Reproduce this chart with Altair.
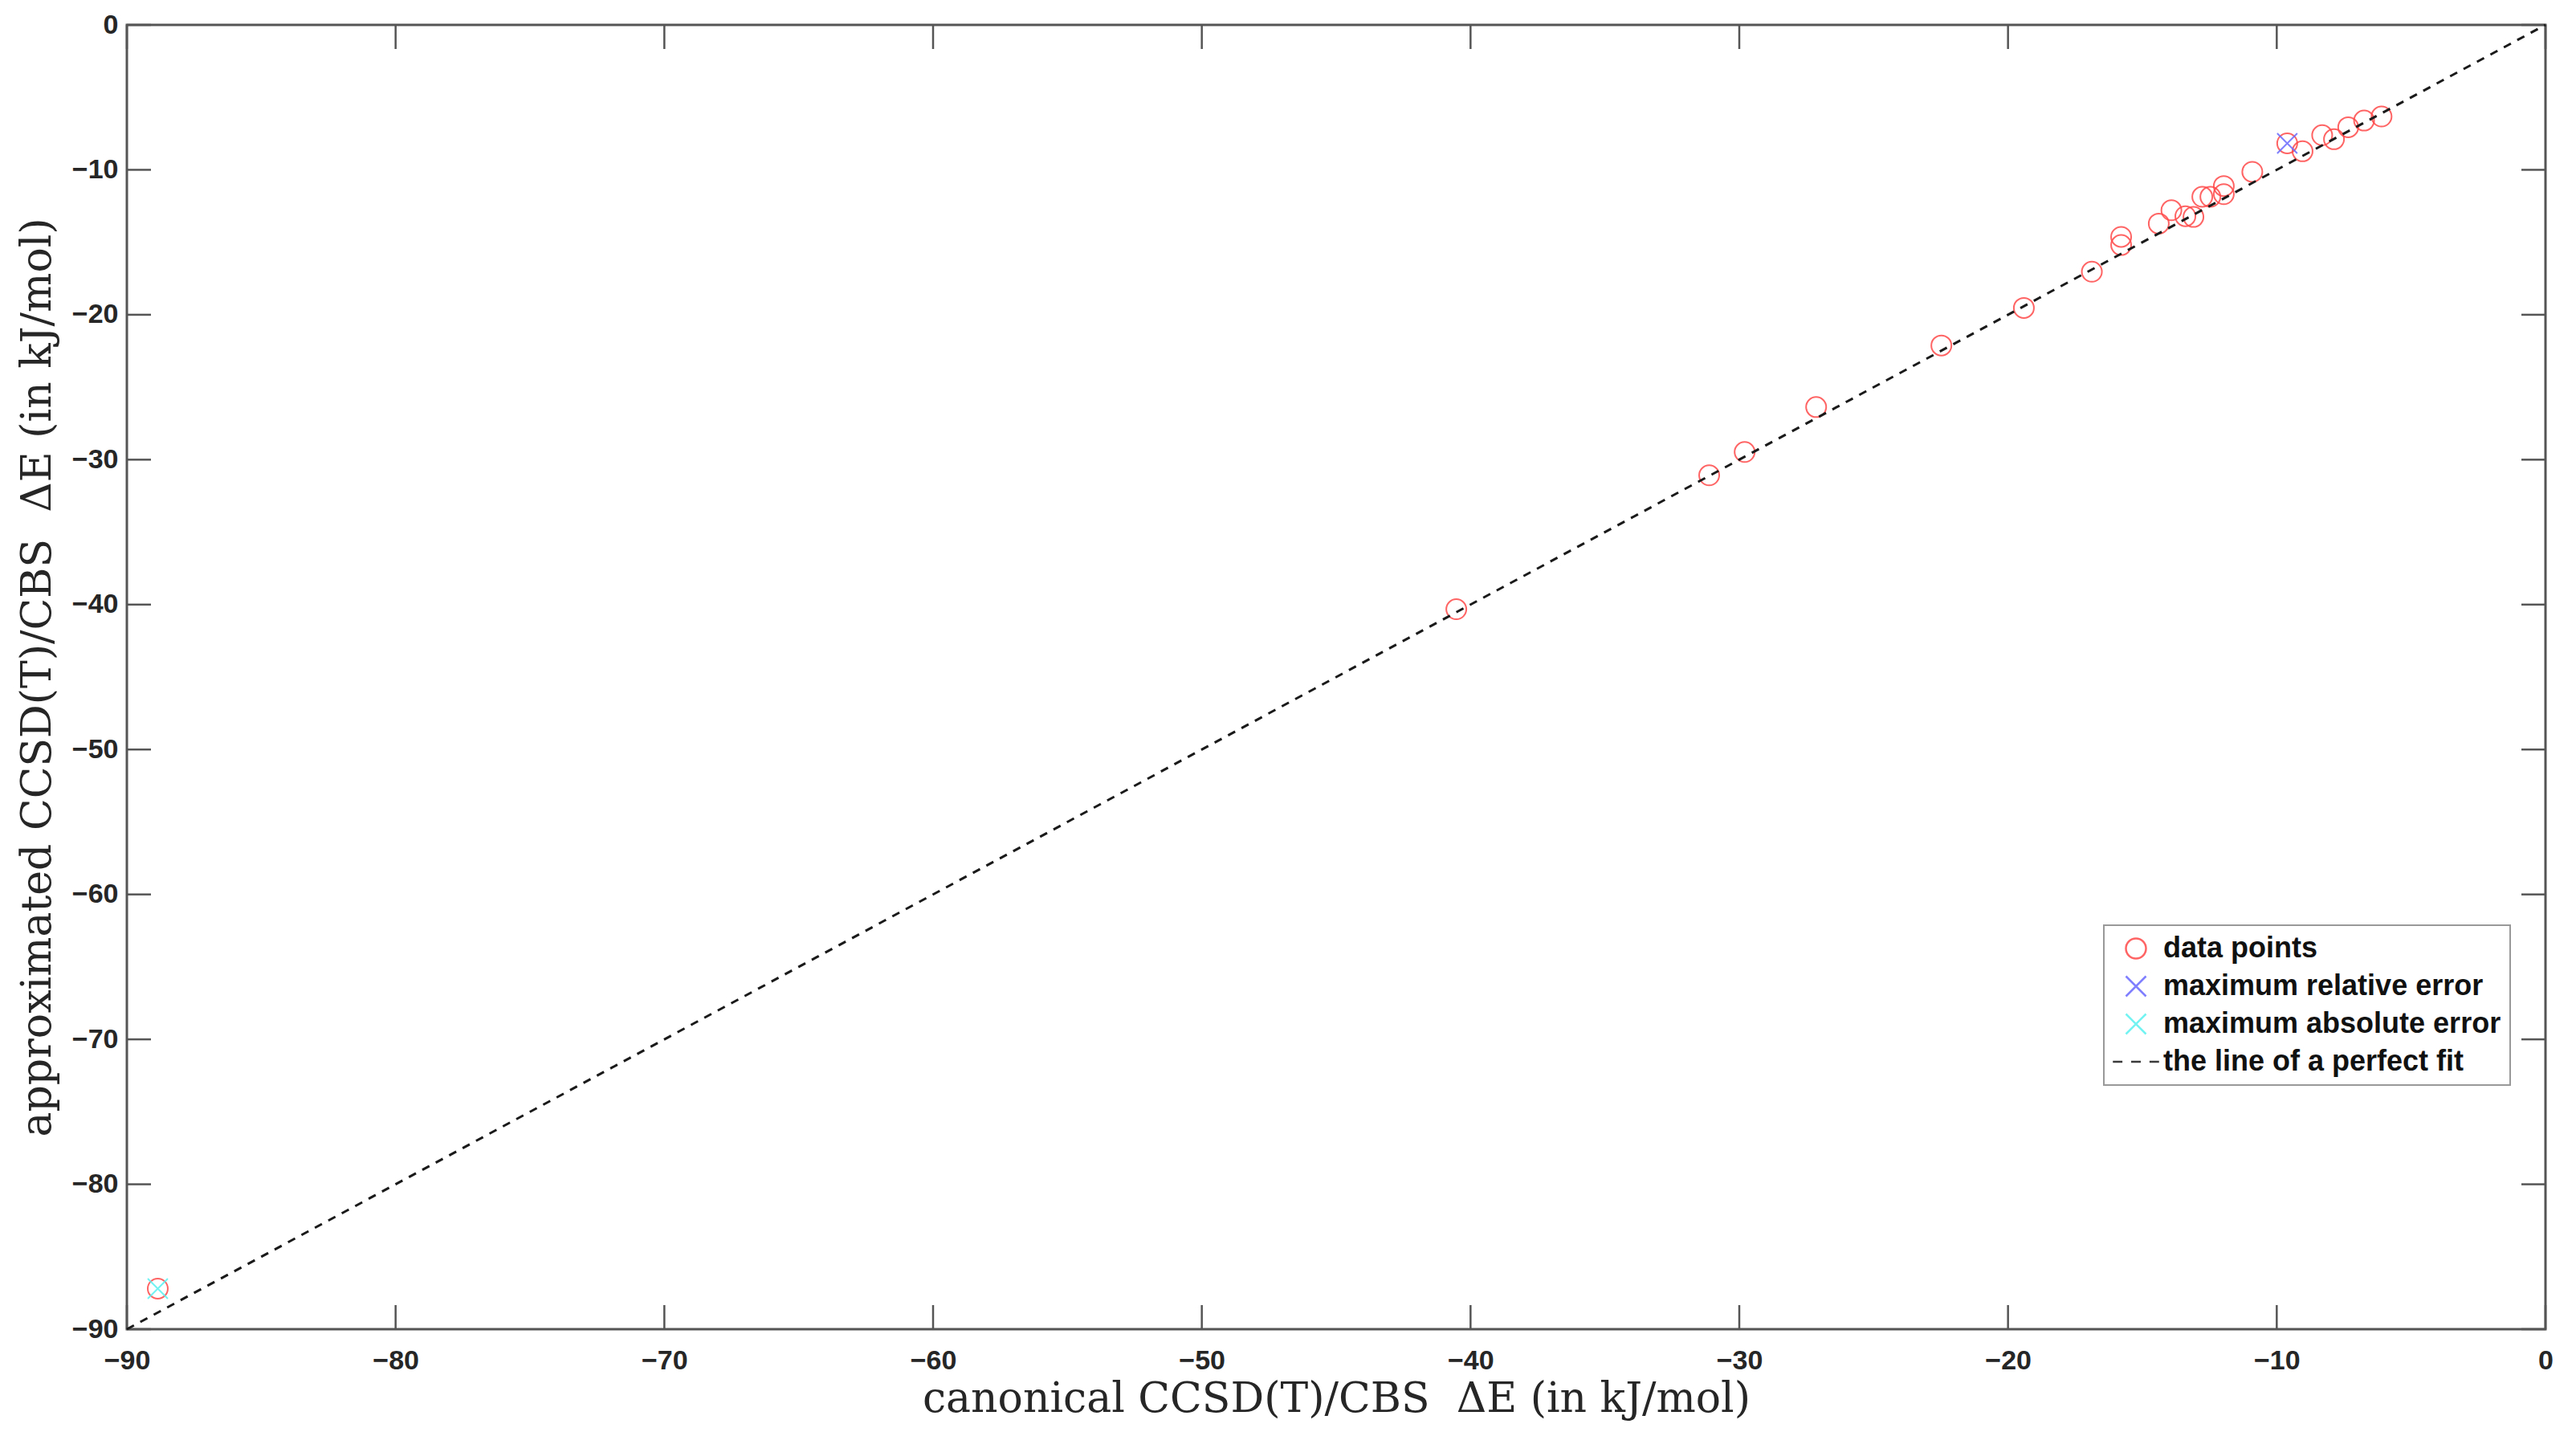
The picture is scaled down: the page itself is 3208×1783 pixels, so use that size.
import altair as alt
import pandas as pd

# ---- data ----
data_x = [-88.85, -40.53, -31.12, -29.80, -27.14, -22.48, -19.41, -16.88, -15.79, -15.79,
          -14.39, -13.92, -13.40, -13.10, -12.77, -12.47, -11.97, -11.97, -10.91, -9.61,
          -9.04, -8.31, -7.87, -7.34, -6.75, -6.10]
data_y = [-87.20, -40.32, -31.08, -29.47, -26.37, -22.12, -19.53, -17.03, -14.63, -15.19,
          -13.71, -12.79, -13.20, -13.25, -11.86, -11.86, -11.68, -11.12, -10.14, -8.17,
          -8.72, -7.61, -7.89, -7.06, -6.60, -6.32]
rel_x = [-9.61]
rel_y = [-8.17]
abs_x = [-88.85]
abs_y = [-87.20]
fit_x = [-90, 0]
fit_y = [-90, 0]
tick_values = [-90, -80, -70, -60, -50, -40, -30, -20, -10, 0]
series_labels = ["data points", "maximum relative error",
                 "maximum absolute error", "the line of a perfect fit"]
x_title = "canonical CCSD(T)/CBS\u00a0\u00a0ΔE (in kJ/mol)"
y_title = "approximated CCSD(T)/CBS\u00a0\u00a0ΔE (in kJ/mol)"

# ---- tables ----
rows = [{"x": x, "y": y, "series": series_labels[0]} for x, y in zip(data_x, data_y)]
rows += [{"x": x, "y": y, "series": series_labels[1]} for x, y in zip(rel_x, rel_y)]
rows += [{"x": x, "y": y, "series": series_labels[2]} for x, y in zip(abs_x, abs_y)]
pts = pd.DataFrame(rows)
fit = pd.DataFrame({"x": fit_x, "y": fit_y})
ticks = pd.DataFrame({"t": tick_values})

W, H = 3012, 1624
AX = "#555555"
TL = 30

xs = alt.Scale(domain=[-90, 0], nice=False, zero=False)
ys = alt.Scale(domain=[-90, 0], nice=False, zero=False)
xaxis = alt.Axis(values=tick_values, title=x_title,
                 labelPadding=22, titlePadding=5, labelFlush=False, labelOverlap=False)
yaxis = alt.Axis(values=tick_values, title=y_title,
                 labelPadding=11, titlePadding=16, labelOverlap=False)

X_PATH = "M-1,-1L1,1M-1,1L1,-1"
DASH_PATH = "M-2.3,0H-1.35M-0.48,0H0.48M1.35,0H2.3"

points = alt.Chart(pts).mark_point(filled=False, strokeWidth=2, size=625, opacity=0.85).encode(
    x=alt.X("x:Q", scale=xs, axis=xaxis),
    y=alt.Y("y:Q", scale=ys, axis=yaxis),
    color=alt.Color("series:N",
                    scale=alt.Scale(domain=series_labels,
                                    range=["#ff4a4a", "#6a6aff", "#5cf2f2", "#1a1a1a"]),
                    legend=alt.Legend(title=None)),
    shape=alt.Shape("series:N",
                    scale=alt.Scale(domain=series_labels,
                                    range=["circle", X_PATH, X_PATH, DASH_PATH]),
                    legend=alt.Legend(title=None)),
)

line = alt.Chart(fit).mark_line(color="#1a1a1a", strokeWidth=3, strokeDash=[10, 9]).encode(
    x=alt.X("x:Q", scale=xs, axis=xaxis),
    y=alt.Y("y:Q", scale=ys, axis=yaxis),
)

yt_left = alt.Chart(ticks).mark_rule(color=AX, strokeWidth=2.5).encode(
    y=alt.Y("t:Q", scale=ys, axis=yaxis), x=alt.value(0), x2=alt.value(TL))
yt_right = alt.Chart(ticks).mark_rule(color=AX, strokeWidth=2.5).encode(
    y=alt.Y("t:Q", scale=ys, axis=yaxis), x=alt.value(W - TL), x2=alt.value(W))
xt_bottom = alt.Chart(ticks).mark_rule(color=AX, strokeWidth=2.5).encode(
    x=alt.X("t:Q", scale=xs, axis=xaxis), y=alt.value(H - TL), y2=alt.value(H))
xt_top = alt.Chart(ticks).mark_rule(color=AX, strokeWidth=2.5).encode(
    x=alt.X("t:Q", scale=xs, axis=xaxis), y=alt.value(0), y2=alt.value(TL))

chart = alt.layer(yt_left, yt_right, xt_bottom, xt_top, points, line).properties(
    width=W, height=H,
    autosize=alt.AutoSizeParams(type="none"),
    padding={"left": 150, "top": 23, "right": 20, "bottom": 125},
).configure_view(
    stroke=AX, strokeWidth=3
).configure_axis(
    domain=False, ticks=False, grid=False,
    labelFont="Liberation Sans", labelFontWeight="bold", labelFontSize=34, labelColor="#262626",
    titleFont="DejaVu Serif", titleFontWeight="normal", titleFontSize=52, titleColor="#262626",
).configure_legend(
    orient="none", legendX=2462, legendY=1121,
    fillColor="white", strokeColor="#999999", strokeWidth=2, padding=11,
    labelFont="Liberation Sans", labelFontWeight="bold", labelFontSize=36, labelColor="#111111",
    labelLimit=0, symbolSize=625, symbolStrokeWidth=2.5, symbolOffset=11,
    labelOffset=16, rowPadding=11,
)

chart.save("out.html", embed_options={"renderer": "svg", "actions": False})
